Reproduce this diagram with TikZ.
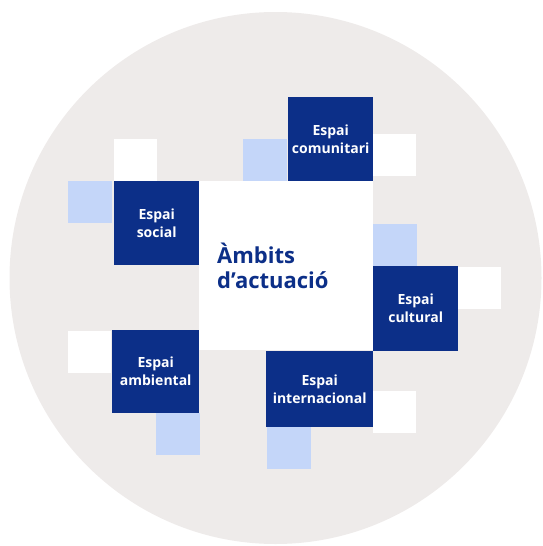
\documentclass[tikz,border=0pt]{standalone}
\usepackage{fontspec}
\setmainfont{Open Sans}
\definecolor{fosc}{RGB}{12,47,136}
\definecolor{clar}{RGB}{196,214,249}
\definecolor{fons}{RGB}{238,235,234}
\tikzset{
  espai/.style={fill=fosc, text=white, align=center, inner sep=0pt, anchor=north west,
    font=\bfseries\fontsize{14}{18}\selectfont},
}

\begin{document}
\begin{tikzpicture}[x=1pt,y=-1pt]
\useasboundingbox (0,0) rectangle (543,546);
\fill[fons] (275.5,278) circle (266pt);
% petits quadrats
\foreach \a/\b in {114/139, 373/134, 458/267, 68/331, 373/391} {
 \fill[white] (\a,\b) rectangle ++(43,42);
}
\foreach \a/\b in {68/181, 243/139, 373/224, 156/413, 267/427} {
 \fill[clar] (\a,\b) rectangle ++(44,42);
}
\node[fill=white, anchor=north west, minimum width=174pt, minimum height=169pt,
  text width=138pt, inner xsep=18pt, inner ysep=0pt, align=left, text=fosc,
  font=\bfseries\fontsize{22}{25}\selectfont] (ambits) at (199,181) {Àmbits\\d’actuació};
\node[espai, minimum width=85pt, minimum height=84pt] (social) at (114,181) {Espai\\social};
\node[espai, minimum width=85pt, minimum height=84pt] (comunitari) at (288,97) {Espai\\comunitari};
\node[espai, minimum width=85pt, minimum height=85pt] (cultural) at (373,266) {Espai\\cultural};
\node[espai, minimum width=87pt, minimum height=83pt] (ambiental) at (112,330) {Espai\\ambiental};
\node[espai, minimum width=107pt, minimum height=76pt] (internacional) at (266,351) {Espai\\internacional};
\end{tikzpicture}
\end{document}
